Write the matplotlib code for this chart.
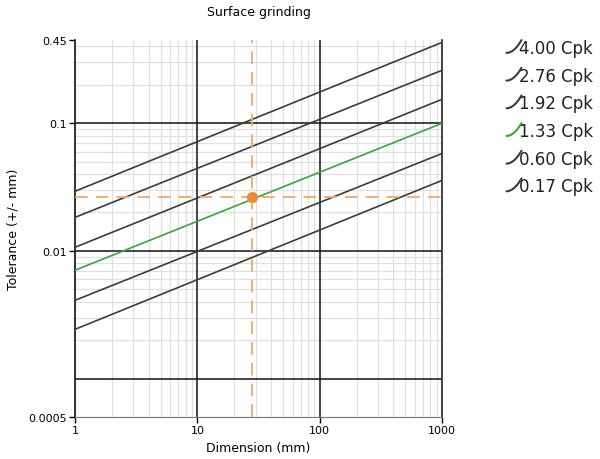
import numpy as np
import matplotlib
matplotlib.use('Agg')
import matplotlib.pyplot as plt
from matplotlib.legend_handler import HandlerBase
from matplotlib.lines import Line2D
import matplotlib.ticker as ticker

# datos
dims = [1, 1000]
cpk_labels = ['4.00 Cpk', '2.76 Cpk', '1.92 Cpk', '1.33 Cpk', '0.60 Cpk', '0.17 Cpk']
tol_1 = [0.0293, 0.0183, 0.01067, 0.00705, 0.0041, 0.00243]
tol_1000 = [0.43, 0.26, 0.154, 0.1, 0.058, 0.0357]
line_colors = ['#3c3c3c', '#3c3c3c', '#3c3c3c', '#3aa53a', '#3c3c3c', '#3c3c3c']

punto_dim = 28
punto_tol = 0.0263

y_ticks = [0.0005, 0.01, 0.1, 0.45]
y_ticklabels = ['0.0005', '0.01', '0.1', '0.45']
x_ticks = [1, 10, 100, 1000]
x_ticklabels = ['1', '10', '100', '1000']
x_decadas = [10, 100]
y_decadas = [0.001, 0.01, 0.1]


class CurveHandler(HandlerBase):
    # pequeño trazo curvo como en la leyenda original
    def create_artists(self, legend, orig_handle, xdescent, ydescent,
                       width, height, fontsize, trans):
        t = np.linspace(0, 1, 12)
        xs = -xdescent + width * t
        ys = -ydescent + height * 1.1 * t ** 2
        ln = Line2D(xs, ys, color=orig_handle.get_color(), lw=1.5,
                    solid_capstyle='round', transform=trans)
        return [ln]


fig = plt.figure(figsize=(6, 4.6), dpi=100)
ax = fig.add_axes([0.125, 0.0913, 0.612, 0.82])

ax.set_xscale('log')
ax.set_yscale('log')
ax.set_xlim(1, 1000)
ax.set_ylim(0.0005, 0.45)

# rejilla fina
ax.grid(which='minor', color='#e0e0e0', lw=0.9)
ax.grid(which='major', visible=False)
ax.set_axisbelow(True)
# lineas de decada encima de la rejilla fina
for xd in x_decadas:
    ax.axvline(xd, color='#111111', lw=1.1, zorder=1.5)
for yd in y_decadas:
    ax.axhline(yd, color='#111111', lw=1.1, zorder=1.5)

handles = []
for i in range(len(cpk_labels)):
    h, = ax.plot(dims, [tol_1[i], tol_1000[i]], color=line_colors[i], lw=1.2,
                 label=cpk_labels[i], zorder=3)
    handles.append(h)

ax.axvline(punto_dim, color='#f5a862', lw=1.3, ls=(0, (7, 4.5)), zorder=4)
ax.axhline(punto_tol, color='#f5a862', lw=1.3, ls=(0, (7, 4.5)), zorder=4)
ax.plot([punto_dim], [punto_tol], 'o', color='#f0873a', ms=7, zorder=5)

ax.xaxis.set_major_locator(ticker.FixedLocator(x_ticks))
ax.xaxis.set_major_formatter(ticker.FixedFormatter(x_ticklabels))
ax.yaxis.set_major_locator(ticker.FixedLocator(y_ticks))
ax.yaxis.set_major_formatter(ticker.FixedFormatter(y_ticklabels))
# rejilla fina en y solo desde 0.001 hacia arriba
y_finas = [d * s for d in y_decadas for s in range(2, 10) if d * s < 0.45]
ax.yaxis.set_minor_locator(ticker.FixedLocator(y_finas))
ax.xaxis.set_minor_locator(ticker.LogLocator(base=10, subs=np.arange(2, 10)))
ax.yaxis.set_minor_formatter(ticker.NullFormatter())
ax.xaxis.set_minor_formatter(ticker.NullFormatter())
ax.tick_params(which='minor', length=0)
ax.tick_params(which='major', length=4, width=1, labelsize=8, pad=2)

ax.spines['top'].set_visible(False)
ax.spines['left'].set_color('#111111')
ax.spines['right'].set_color('#222222')
ax.spines['bottom'].set_color('#777777')
ax.spines['left'].set_linewidth(1.2)
ax.spines['right'].set_linewidth(1.2)

ax.set_title('Surface grinding', fontsize=9, pad=18)
ax.set_xlabel('Dimension (mm)', fontsize=9, labelpad=4)
ax.set_ylabel('Tolerance (+/- mm)', fontsize=9, labelpad=6)

leg = ax.legend(handles=handles, labels=cpk_labels,
                handler_map={Line2D: CurveHandler()},
                loc='upper left', bbox_to_anchor=(1.157, 1.02),
                frameon=False, fontsize=12, handlelength=0.9,
                handletextpad=-0.15, labelspacing=0.58, borderaxespad=0)
for txt in leg.get_texts():
    txt.set_color('#222222')

plt.savefig('out.png', dpi=100)
